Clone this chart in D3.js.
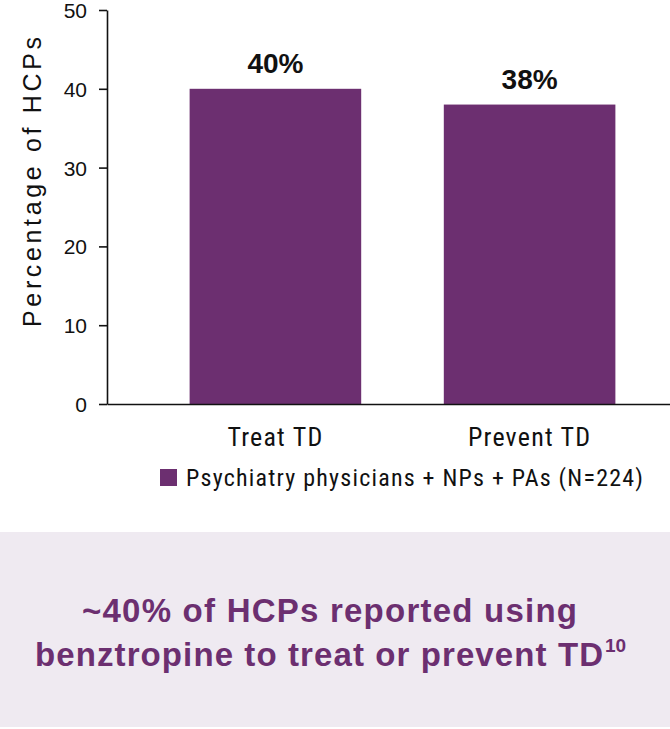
<!DOCTYPE html>
<html>
<head>
<meta charset="utf-8">
<script src="https://cdn.jsdelivr.net/npm/d3@7"></script>
<style>
  body { margin: 0; background: #fff; }
  svg { display: block; }
</style>
</head>
<body>
<div id="chart"></div>
<script>
const categories = ["Treat TD", "Prevent TD"];
const values = [40, 38];
const valueLabels = ["40%", "38%"];
const yTicks = [0, 10, 20, 30, 40, 50];
const seriesName = "Psychiatry physicians + NPs + PAs (N=224)";
const takeaway = ["~40% of HCPs reported using", "benztropine to treat or prevent TD"];

const width = 670;
const height = 729;
const purple = "#6c2f70";
const narrow = "'Liberation Sans Narrow', 'Roboto Condensed', Arial, sans-serif";
const sans = "'Liberation Sans', Arial, sans-serif";

const svg = d3.select("#chart")
    .append("svg")
    .attr("width", width)
    .attr("height", height);

const x = d3.scaleBand()
    .domain(categories)
    .range([107, 698])
    .padding(0.325);

const y = d3.scaleLinear()
    .domain([0, 50])
    .range([404, 10]);

// bars
svg.append("g")
    .selectAll("rect")
    .data(values)
    .join("rect")
        .attr("x", (d, i) => x(categories[i]))
        .attr("y", d => y(d))
        .attr("width", x.bandwidth())
        .attr("height", d => y(0) - y(d))
        .attr("fill", purple);

// value labels
svg.append("g")
    .selectAll("text")
    .data(values)
    .join("text")
        .attr("x", (d, i) => x(categories[i]) + x.bandwidth() / 2)
        .attr("y", d => y(d) - 16)
        .attr("text-anchor", "middle")
        .attr("font-family", sans)
        .attr("font-weight", "bold")
        .attr("font-size", "28px")
        .attr("fill", "#111")
        .text((d, i) => valueLabels[i]);

// y axis
const yAxis = svg.append("g")
    .attr("transform", "translate(107,0)")
    .call(d3.axisLeft(y).tickValues(yTicks).tickSize(8).tickSizeOuter(0).tickPadding(12));
yAxis.selectAll("text")
    .attr("font-family", sans)
    .attr("font-size", "21px")
    .attr("fill", "#111")
    .attr("dy", "0.36em");
yAxis.selectAll("path, line").attr("stroke", "#111").attr("stroke-width", 1.6);

// x axis
const xAxis = svg.append("g")
    .attr("transform", "translate(0,404)")
    .call(d3.axisBottom(x).tickSize(0).tickSizeOuter(0).tickPadding(24));
xAxis.selectAll("text")
    .attr("font-family", narrow)
    .attr("font-size", "26px")
    .attr("letter-spacing", "1.2px")
    .attr("fill", "#111");
xAxis.select(".domain").attr("stroke", "#111").attr("stroke-width", 1.6);

// y axis title
svg.append("text")
    .attr("transform", "translate(41,182) rotate(-90)")
    .attr("text-anchor", "middle")
    .attr("font-family", sans)
    .attr("font-size", "25px")
    .attr("textLength", 290)
    .attr("lengthAdjust", "spacing")
    .attr("fill", "#111")
    .text("Percentage of HCPs");

// legend
const legend = svg.append("g").attr("transform", "translate(160,469)");
legend.append("rect")
    .attr("width", 17)
    .attr("height", 17)
    .attr("fill", purple);
legend.append("text")
    .attr("x", 26)
    .attr("y", 17)
    .attr("font-family", narrow)
    .attr("font-size", "24px")
    .attr("textLength", 457)
    .attr("lengthAdjust", "spacing")
    .attr("fill", "#111")
    .text(seriesName);

// takeaway box
svg.append("rect")
    .attr("x", 0)
    .attr("y", 532)
    .attr("width", width)
    .attr("height", 195)
    .attr("fill", "#efeaf1");

const note = svg.append("g")
    .attr("font-family", sans)
    .attr("font-weight", "bold")
    .attr("font-size", "33px")
    .attr("fill", purple);
note.append("text")
    .attr("x", 82)
    .attr("y", 622)
    .attr("textLength", 495)
    .attr("lengthAdjust", "spacing")
    .text(takeaway[0]);
const line2 = note.append("text")
    .attr("x", 35)
    .attr("y", 666);
line2.append("tspan")
    .attr("textLength", 568)
    .attr("lengthAdjust", "spacing")
    .text(takeaway[1]);
line2.append("tspan")
    .attr("x", 605)
    .attr("font-size", "19px")
    .attr("dy", "-14")
    .text("10");
</script>
</body>
</html>
